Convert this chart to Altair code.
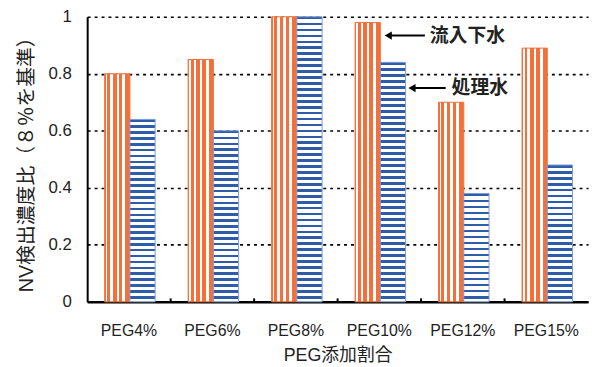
import altair as alt
import pandas as pd

categories = ["PEG4%", "PEG6%", "PEG8%", "PEG10%", "PEG12%", "PEG15%"]
influent = [0.80, 0.85, 1.00, 0.98, 0.70, 0.89]
treated = [0.64, 0.60, 1.00, 0.84, 0.38, 0.48]
y_ticks = [0, 0.2, 0.4, 0.6, 0.8, 1.0]
ann_labels = ["流入下水", "処理水"]
ann_values = [0.934, 0.75]
ann_category = "PEG10%"

ORANGE = "#f4703a"
BLUE = "#2f5ca8"
BLUE_EDGE = "#7d9dd8"
FONT = "Liberation Sans, Noto Sans CJK JP, sans-serif"
PLOT_H = 288

df = pd.DataFrame({"cat": categories, "influent": influent, "treated": treated})


def sharp(edges, colors, **kw):
    stops = []
    for i, c in enumerate(colors):
        stops.append(alt.GradientStop(color=c, offset=edges[i]))
        stops.append(alt.GradientStop(color=c, offset=edges[i + 1]))
    return alt.Gradient(gradient="linear", stops=stops, **kw)


v_edges = [0, 0.04, 0.10, 0.215, 0.32, 0.47, 0.56, 0.70, 0.82, 1.0]
v_colors = [ORANGE if i % 2 == 0 else "white" for i in range(len(v_edges) - 1)]
orange_grad = sharp(v_edges, v_colors, x1=0, x2=1, y1=0, y2=0)


def blue_grad(v):
    n = max(1, round(v * PLOT_H / 6))
    edges, colors = [], []
    for k in range(n):
        edges += [k / n, (k + 0.45) / n]
        colors += [BLUE, "white"]
    edges.append(1.0)
    return sharp(edges, colors, x1=0, x2=0, y1=0, y2=1)


x_enc = alt.X(
    "cat:N",
    scale=alt.Scale(domain=categories, paddingInner=0, paddingOuter=0),
    axis=alt.Axis(
        title="PEG添加割合", labelAngle=0, ticks=False, domainColor="black",
        domainWidth=2.5, labelPadding=21, titlePadding=8, grid=False,
        labelFontSize=16, titleFontSize=18,
    ),
)
y_scale = alt.Scale(domain=[0, 1], nice=False)

orange = alt.Chart(df).mark_bar(
    color=orange_grad, stroke=ORANGE, strokeWidth=1, width=25.5, xOffset=-11.75
).encode(
    x=x_enc,
    y=alt.Y(
        "influent:Q", scale=y_scale,
        axis=alt.Axis(
            title="NV検出濃度比（８％を基準）", values=y_ticks, format="~g",
            grid=True, gridColor="black", gridDash=[3, 4], gridWidth=1.6,
            domainColor="black", domainWidth=2, ticks=False,
            labelPadding=16, titlePadding=12, labelFontSize=17, titleFontSize=20,
        ),
    ),
)

layers = [orange]
for c, v in zip(categories, treated):
    layers.append(
        alt.Chart(df).transform_filter(alt.datum.cat == c).mark_bar(
            color=blue_grad(v), stroke=BLUE_EDGE, strokeWidth=1, width=25.5, xOffset=13.75
        ).encode(x=alt.X("cat:N"), y=alt.Y("treated:Q"))
    )

ticks = alt.Chart(df.iloc[1:]).mark_rule(color="black", strokeWidth=2).encode(
    x=alt.X("cat:N", bandPosition=0), y=alt.datum(0), y2=alt.datum(0.012)
)
layers.append(ticks)

ann_offsets = [(5, 46, 51), (29, 67, 73)]
for lab, val, (tip, end, txt) in zip(ann_labels, ann_values, ann_offsets):
    a = pd.DataFrame({"cat": [ann_category], "y": [val], "label": [lab]})
    base = alt.Chart(a)
    layers.append(base.mark_rule(color="black", strokeWidth=2, xOffset=tip + 5, x2Offset=end).encode(
        x=alt.X("cat:N"), x2=alt.X2("cat"), y=alt.Y("y:Q")))
    layers.append(base.mark_point(shape="triangle-left", filled=True, color="black", opacity=1,
                                  size=70, xOffset=tip + 4).encode(x=alt.X("cat:N"), y=alt.Y("y:Q")))
    layers.append(base.mark_text(align="left", baseline="middle", fontWeight="bold", fontSize=19,
                                 color="#222", xOffset=txt).encode(
        x=alt.X("cat:N"), y=alt.Y("y:Q"), text="label:N"))

chart = alt.layer(*layers).properties(
    width=506, height=PLOT_H,
    autosize=alt.AutoSizeParams(type="none"),
    padding={"left": 80, "top": 7, "right": 2, "bottom": 63},
).configure(font=FONT).configure_view(strokeWidth=0).configure_axis(
    labelColor="#222", titleColor="#222", titleFontWeight="normal",
)

chart.save("out.html", embed_options={"renderer": "svg", "actions": False})
